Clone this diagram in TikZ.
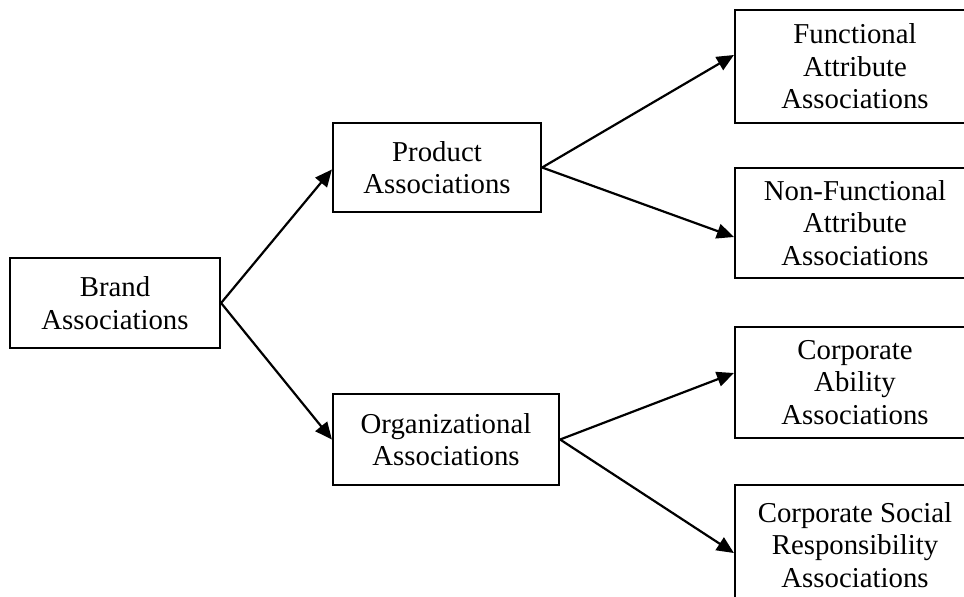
\documentclass[tikz,border=0pt]{standalone}
\usepackage{fontspec}
\setmainfont{Liberation Serif}
\usetikzlibrary{arrows.meta,calc}
\begin{document}
\begin{tikzpicture}[x=0.5pt,y=-0.5pt,
  box/.style={draw, line width=1.1pt, rectangle, align=center, inner sep=0pt,
    font=\fontsize{14.4}{16.25}\selectfont},
  conn/.style={line width=1.1pt, -{Triangle[length=8.5pt,width=7.5pt]}}]
\useasboundingbox (0,0) rectangle (964,596);
\begin{scope}
\clip (0,0) rectangle (964,596);
\node[box, minimum width=105pt, minimum height=45pt] (brand) at (115,303) {Brand\\Associations};
\node[box, minimum width=104pt, minimum height=44.5pt] (prod) at (437,167.5) {Product\\Associations};
\node[box, minimum width=113pt, minimum height=45.5pt] (org) at (446,439.5) {Organizational\\Associations};
\node[box, minimum width=120pt, minimum height=56.5pt] (func) at (855,66.5) {Functional\\Attribute\\Associations};
\node[box, minimum width=120pt, minimum height=55pt] (nonf) at (855,223) {Non-Functional\\Attribute\\Associations};
\node[box, minimum width=120pt, minimum height=55.5pt] (abil) at (855,382.5) {Corporate\\Ability\\Associations};
\node[box, minimum width=120pt, minimum height=60pt] (csr) at (855,545) {Corporate Social\\Responsibility\\Associations};
\draw[conn] (brand.east) -- ($(prod.west)+(0,2)$);
\draw[conn] (brand.east) -- (org.west);
\draw[conn] (prod.east) -- ($(func.west)+(0,-11.5)$);
\draw[conn] (prod.east) -- ($(nonf.west)+(0,14)$);
\draw[conn] (org.east) -- ($(abil.west)+(0,-9.5)$);
\draw[conn] (org.east) -- ($(csr.west)+(0,8)$);
\end{scope}
\end{tikzpicture}
\end{document}
